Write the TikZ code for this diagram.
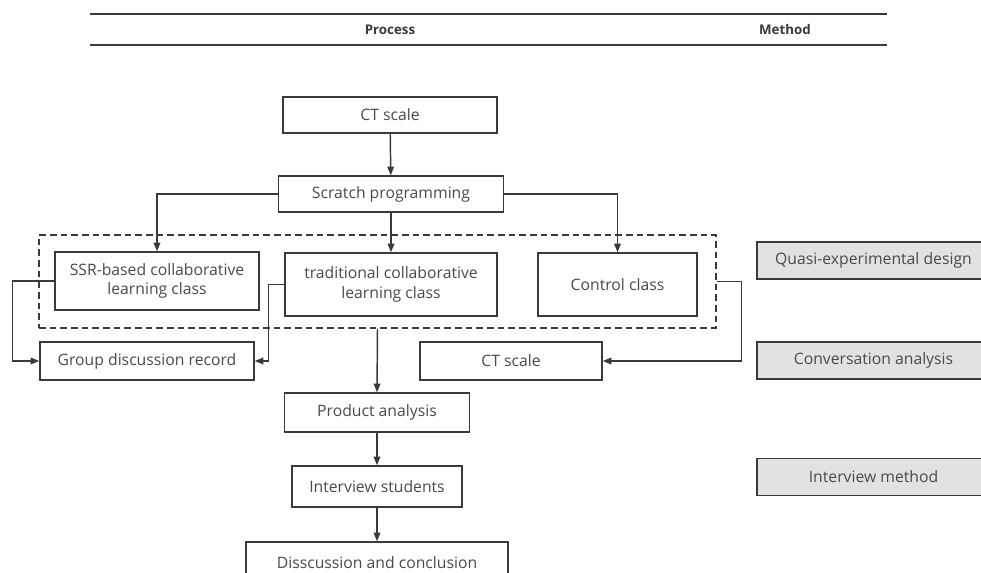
\documentclass[tikz,border=0pt]{standalone}
\usepackage{fontspec}
\setmainfont{Open Sans}
\setsansfont{Open Sans}
\usepackage{tikz}
\usetikzlibrary{calc}
\usetikzlibrary{positioning}
\usetikzlibrary{arrows.meta}
\definecolor{linegray}{HTML}{3A3A3A}
\definecolor{textgray}{HTML}{4A4A4A}
\definecolor{methodfill}{HTML}{E2E2E2}
\tikzset{
	>={Triangle[length=6.5pt,width=5pt]},
	stepbox/.style={
		rectangle,
		draw=linegray, line width=1.1pt,
		fill=white,
		text=textgray,
		inner sep=0pt,
		align=center,
		font=\fontsize{11.8}{14.5}\selectfont},
	methodbox/.style={
		stepbox,
		fill=methodfill},
	classbox/.style={
		rectangle,
		draw=linegray, line width=1.1pt,
		dash pattern=on 5pt off 3pt,
		inner sep=0pt},
	line/.style={draw=linegray, line width=1.1pt, ->},
	rule/.style={draw=linegray},
	headtext/.style={text=linegray, font=\fontsize{10}{12}\selectfont\bfseries},
}

\begin{document}
\begin{tikzpicture}[x=0.75pt,y=-0.75pt]
	\useasboundingbox (0,0) rectangle (981,573);
	% header
	\draw[rule, line width=1.2pt] (90,14) -- (887,14);
	\draw[rule, line width=2pt] (90,45) -- (887,45);
	\node[headtext] (process) at (390,30) {Process};
	\node[headtext] (method) at (785,30) {Method};

	% process column
	\node[stepbox, minimum width=160.5pt, minimum height=27pt] (ctfirst) at (390,115) {CT scale};
	\node[stepbox, minimum width=168.75pt, minimum height=27pt] (scratch) at (391,194) {Scratch programming};
	\node[classbox, minimum width=507.75pt, minimum height=69.75pt] (classes) at (377.5,281.5) {};
	\node[stepbox, minimum width=153pt, minimum height=43.5pt] (ssr) at (157,281) {SSR-based collaborative\\learning class};
	\node[stepbox, minimum width=159pt, minimum height=47.25pt] (trad) at (391,284.5) {traditional collaborative\\learning class};
	\node[stepbox, minimum width=119.25pt, minimum height=47.25pt] (control) at (617.5,284.5) {Control class};
	\node[stepbox, minimum width=160.5pt, minimum height=28.5pt] (group) at (147,361) {Group discussion record};
	\node[stepbox, minimum width=136.5pt, minimum height=28.5pt] (ctsecond) at (511,361) {CT scale};
	\node[stepbox, minimum width=138.75pt, minimum height=29.25pt] (product) at (377,412.5) {Product analysis};
	\node[stepbox, minimum width=127.5pt, minimum height=30.75pt] (interview) at (377,486.5) {Interview students};
	\node[stepbox, minimum width=196.5pt, minimum height=30.75pt] (discuss) at (377,562.5) {Disscussion and conclusion};

	% method column
	\node[methodbox, minimum width=174.75pt, minimum height=27.75pt] (quasi) at (873.5,260.5) {Quasi-experimental design};
	\node[methodbox, minimum width=174.75pt, minimum height=27.75pt] (conversation) at (873.5,360.5) {Conversation analysis};
	\node[methodbox, minimum width=174.75pt, minimum height=27.75pt] (intmethod) at (873.5,477) {Interview method};

	% connectors
	\draw[line] (ctfirst) -- (scratch);
	\draw[line] (scratch.west) -| (ssr.north);
	\draw[line] (scratch.east) -| (control.north);
	\draw[line] (scratch) -- (trad);
	\draw[line] (ssr.west) -- ++(-42,0) |- (group.west);
	\draw[line] (trad.west) -- ++(-16,0) |- (group.east);
	\draw[line] (classes.east) -- ++(25,0) |- (ctsecond.east);
	\draw[line] (classes.south) -- (product.north);
	\draw[line] (product) -- (interview);
	\draw[line] (interview) -- (discuss);
\end{tikzpicture}
\end{document}
